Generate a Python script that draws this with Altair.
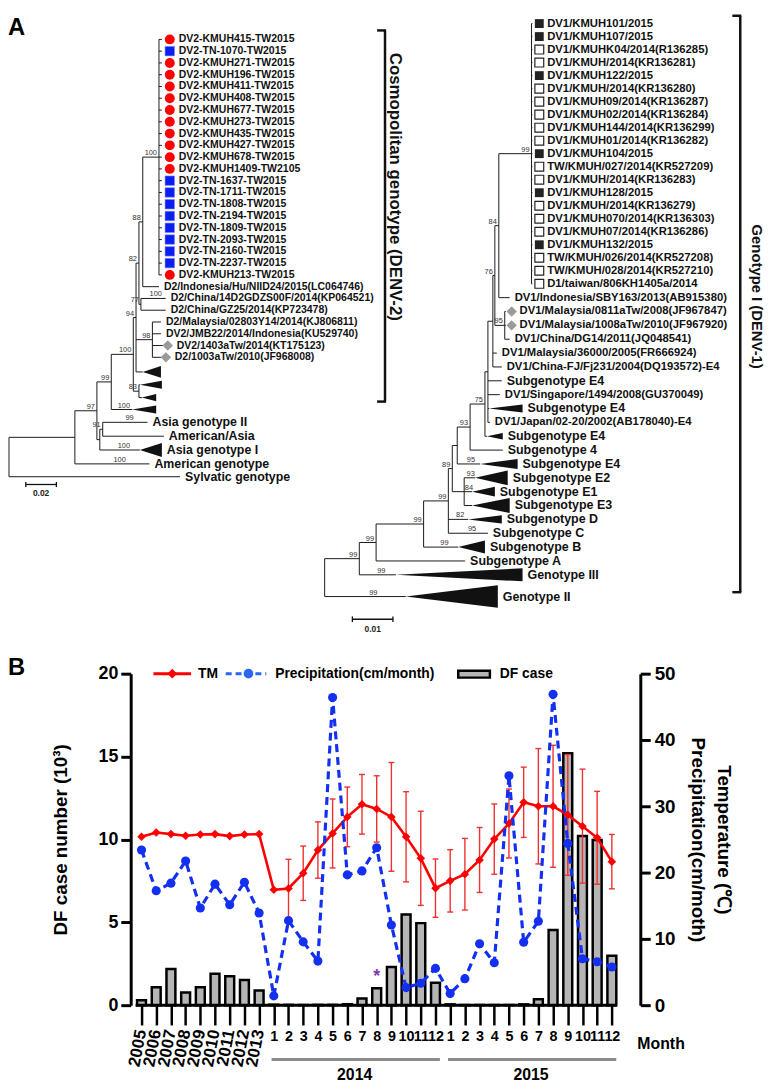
import json
import numpy as np
import pandas as pd
import altair as alt

FONT = "Liberation Sans"

# ======================= Panel B data =======================
PERIOD_LABELS = ["2005", "2006", "2007", "2008", "2009", "2010", "2011", "2012", "2013",
                 "1", "2", "3", "4", "5", "6", "7", "8", "9", "10", "11", "12",
                 "1", "2", "3", "4", "5", "6", "7", "8", "9", "10", "11", "12"]
DF_CASES = [0.30, 1.08, 2.18, 0.76, 1.08, 1.90, 1.74, 1.52, 0.88,
            0.03, 0.02, 0.01, 0.02, 0.02, 0.06, 0.40, 1.02, 2.30, 5.47, 4.95, 1.35,
            0.05, 0.01, 0.01, 0.01, 0.01, 0.05, 0.36, 4.54, 15.2, 10.2, 9.97, 2.98]
TM = [25.4, 26.05, 25.8, 25.55, 25.75, 25.8, 25.5, 25.75, 25.8,
      17.4, 17.6, 19.9, 23.4, 25.9, 28.4, 30.3, 29.6, 28.4, 25.4, 22.15, 17.65,
      18.75, 19.75, 21.9, 25.05, 27.4, 30.6, 30.0, 30.0, 28.7, 27.0, 25.25, 21.65]
TM_SD = [0, 0, 0, 0, 0, 0, 0, 0, 0,
         0, 4.4, 4.1, 4.25, 5.2, 4.5, 4.5, 5.0, 8.2, 6.8, 7.1, 4.4,
         4.7, 5.4, 4.9, 5.3, 5.2, 5.3, 8.7, 9.2, 9.1, 8.6, 7.0, 4.1]
PRECIP = [23.4, 17.25, 18.4, 21.75, 14.65, 18.25, 15.15, 18.55, 13.9,
          1.4, 12.75, 9.55, 6.65, 46.4, 19.65, 20.25, 23.75, 12.1, 2.65, 3.3, 5.55,
          1.75, 4.0, 9.25, 6.4, 34.6, 9.5, 12.65, 46.9, 24.4, 7.0, 6.55, 5.75]
YEAR_GROUPS = [("2014", 9, 20), ("2015", 21, 32)]
STAR_IDX = 16
LEGEND_LABELS = ["TM", "Precipitation(cm/month)", "DF case"]

# ======================= Panel A data =======================
LEFT_LABELS = [
    "DV2-KMUH415-TW2015", "DV2-TN-1070-TW2015", "DV2-KMUH271-TW2015", "DV2-KMUH196-TW2015",
    "DV2-KMUH411-TW2015", "DV2-KMUH408-TW2015", "DV2-KMUH677-TW2015", "DV2-KMUH273-TW2015",
    "DV2-KMUH435-TW2015", "DV2-KMUH427-TW2015", "DV2-KMUH678-TW2015", "DV2-KMUH1409-TW2105",
    "DV2-TN-1637-TW2015", "DV2-TN-1711-TW2015", "DV2-TN-1808-TW2015", "DV2-TN-2194-TW2015",
    "DV2-TN-1809-TW2015", "DV2-TN-2093-TW2015", "DV2-TN-2160-TW2015", "DV2-TN-2237-TW2015",
    "DV2-KMUH213-TW2015", "D2/Indonesia/Hu/NIID24/2015(LC064746)",
    "D2/China/14D2GDZS00F/2014(KP064521)", "D2/China/GZ25/2014(KP723478)",
    "D2/Malaysia/02803Y14/2014(KJ806811)", "DV2/JMB22/2014/Indonesia(KU529740)",
    "DV2/1403aTw/2014(KT175123)", "D2/1003aTw/2010(JF968008)",
    "", "", "", "",
    "Asia genotype II", "American/Asia", "Asia genotype I", "American genotype", "Sylvatic genotype"]
LEFT_MARK = (["c", "s"] + ["c"] * 10 + ["s"] * 8 + ["c"] + [""] * 5 + ["d", "d"] + [""] * 9)
LEFT_STEP = [0] + [1.0] * 27 + [1.24, 1.09, 1.09, 1.01, 1.09, 1.18, 1.17, 1.18, 1.09]

RIGHT_LABELS = [
    "DV1/KMUH101/2015", "DV1/KMUH107/2015", "DV1/KMUHK04/2014(R136285)", "DV1/KMUH/2014(KR136281)",
    "DV1/KMUH122/2015", "DV1/KMUH/2014(KR136280)", "DV1/KMUH09/2014(KR136287)",
    "DV1/KMUH02/2014(KR136284)", "DV1/KMUH144/2014(KR136299)", "DV1/KMUH01/2014(KR136282)",
    "DV1/KMUH104/2015", "TW/KMUH/027/2014(KR527209)", "DV1/KMUH/2014(KR136283)",
    "DV1/KMUH128/2015", "DV1/KMUH/2014(KR136279)", "DV1/KMUH070/2014(KR136303)",
    "DV1/KMUH07/2014(KR136286)", "DV1/KMUH132/2015", "TW/KMUH/026/2014(KR527208)",
    "TW/KMUH/028/2014(KR527210)", "D1/taiwan/806KH1405a/2014",
    "DV1/Indonesia/SBY163/2013(AB915380)", "DV1/Malaysia/0811aTw/2008(JF967847)",
    "DV1/Malaysia/1008aTw/2010(JF967920)", "DV1/China/DG14/2011(JQ048541)",
    "DV1/Malaysia/36000/2005(FR666924)", "DV1/China-FJ/Fj231/2004(DQ193572)-E4",
    "Subgenotype E4", "DV1/Singapore/1494/2008(GU370049)", "Subgenotype E4",
    "DV1/Japan/02-20/2002(AB178040)-E4", "Subgenotype E4", "Subgenotype 4", "Subgenotype E4",
    "Subgenotype E2", "Subgenotype E1", "Subgenotype E3", "Subgenotype D", "Subgenotype C",
    "Subgenotype B", "Subgenotype A", "Genotype III", "Genotype II"]
RIGHT_MARK = (["b", "b", "w", "w", "b", "w", "w", "w", "w", "w", "b", "w", "w", "b",
               "w", "w", "w", "b", "w", "w", "w", "", "d", "d"] + [""] * 19)
RIGHT_STEP = [0] + [1.0] * 20 + [1.065] * 21 + [1.67]


def N(d, bs, *kids):
    return {"d": d, "bs": bs, "kids": list(kids)}


def L(d, i, bs=None):
    return {"d": d, "leaf": i, "bs": bs}


def T(d, tip, i, half, bs=None):
    return {"d": d, "tip": tip, "leaf": i, "half": half, "bs": bs}


# node depths in substitutions/site
LEFT_TREE = N(0, None,
    N(.0431, None,
        N(.0575, "97",
            N(.0669, "99",
                N(.0813, "100",
                    N(.0831, "94",
                        N(.0850, "82",
                            N(.0875, "88",
                                N(.0981, "100", *[L(.1000, i) for i in range(21)]),
                                L(.0981, 21)),
                            N(.0863, "77", L(.1025, 22, "100"), L(.1025, 23))),
                        N(.0938, "98", L(.0994, 24), L(.0994, 25), L(.1006, 26), L(.0994, 27)),
                        T(.0875, .0994, 28, .5)),
                    N(.0850, "83", T(.0856, .1000, 29, .34), T(.0869, .0963, 30, .3))),
                T(.0806, .0963, 31, .34, "100")),
            N(.0594, None,
                N(.0613, "91", L(.0906, 32, "99"), L(.1013, 33)),
                T(.0856, .1000, 34, .6, "100"))),
        L(.0919, 35, "100")),
    L(.1119, 36))

RIGHT_TREE = N(0, None,
    N(.00854, "99",
        N(.01268, "99",
            N(.02439, "99",
                N(.03049, "99",
                    N(.03146, "89",
                        N(.03268, None,
                            N(.03585, "93",
                                N(.03951, "75",
                                    N(.04024, None,
                                        N(.04146, None,
                                            N(.04195, "76",
                                                N(.04293, "84",
                                                    N(.05098, "99", *[L(.0512, i) for i in range(21)]),
                                                    L(.04561, 21)),
                                                N(.04439, "95", L(.04463, 22), L(.04463, 23), L(.04561, 24))),
                                            L(.04244, 25),
                                            L(.04366, 26)),
                                        L(.04366, 27),
                                        L(.04317, 28),
                                        T(.0405, .04878, 29, .3),
                                        L(.04073, 30)),
                                    T(.0400, .04390, 31, .25)),
                                L(.04390, 32)),
                            T(.03829, .04756, 33, .38, "95")),
                        N(.03439, None,
                            T(.03707, .04512, 34, .57, "93"),
                            T(.03634, .04195, 35, .38, "84"),
                            T(.03634, .04561, 36, .57))),
                    T(.03537, .04366, 37, .32, "82"),
                    L(.04024, 38, "95")),
                T(.03293, .03951, 39, .5, "99")),
            L(.03463, 40)),
        T(.01756, .04878, 41, .5, "99")),
    T(.02, .04268, 42, .87, "99"))


def layout(tree, ypos):
    segs, tris, tips, nlab, blab = [], [], {}, [], []

    def rec(n, pdp):
        if "leaf" in n:
            i = n["leaf"]
            y = ypos[i]
            segs.append({"x": pdp, "x2": n["d"], "y": y, "y2": y})
            end = n["d"]
            if "tip" in n:
                tris.append({"id": i, "x": n["d"], "lo": y, "hi": y})
                tris.append({"id": i, "x": n["tip"], "lo": y - n["half"], "hi": y + n["half"]})
                end = n["tip"]
            tips[i] = end
            if n["bs"]:
                blab.append({"x": pdp + 0.6 * (n["d"] - pdp), "y": y, "t": n["bs"]})
            return y
        ys = [rec(k, n["d"]) for k in n["kids"]]
        y = (min(ys) + max(ys)) / 2
        segs.append({"x": n["d"], "x2": n["d"], "y": min(ys), "y2": max(ys)})
        if pdp is not None:
            segs.append({"x": pdp, "x2": n["d"], "y": y, "y2": y})
        if n["bs"]:
            nlab.append({"x": n["d"], "y": y, "t": n["bs"]})
        return y

    rec(tree, None)
    return segs, tris, tips, nlab, blab


# Panel A occupies the full 765 px width; its plot origin sits OFF px to the right so that
# it lines up with panel B's plot origin in the concatenated layout.
OFF = 124
W_FULL, H_A = 765, 630
W_A = W_FULL - OFF


def tree_panel(tree, labels, marks, steps, x0, xppu, y0, yppr, mark_styles, text_dx,
               strain_fs, clade_fs, big_fs, scalebar, bracket):
    pos = list(np.cumsum(steps))
    segs, tris, tips, nlab, blab = layout(tree, pos)
    xs = alt.Scale(domain=[(OFF - x0) / xppu, (W_FULL - x0) / xppu], nice=False, zero=False)
    ys = alt.Scale(domain=[-y0 / yppr, (H_A - y0) / yppr], nice=False, zero=False, reverse=True)

    def X(f):
        return alt.X(f, type="quantitative", scale=xs, axis=None)

    def Y(f):
        return alt.Y(f, type="quantitative", scale=ys, axis=None)

    layers = [
        alt.Chart(pd.DataFrame(segs)).mark_rule(color="#1a1a1a", strokeWidth=1).encode(
            x=X("x"), x2="x2", y=Y("y"), y2="y2"),
        alt.Chart(pd.DataFrame(tris)).mark_area(color="#111111", opacity=1).encode(
            x=X("x"), y=Y("lo"), y2="hi", detail="id:N"),
    ]
    leaves = pd.DataFrame({"label": labels, "mark": marks, "x": [tips[i] for i in range(len(labels))],
                           "y": pos})
    for m, style in mark_styles.items():
        sub = leaves[leaves["mark"] == m]
        if len(sub):
            layers.append(alt.Chart(sub).mark_point(**style).encode(x=X("x"), y=Y("y")))

    def is_clade(l):
        return l != "" and ("/" not in l or l == "American/Asia") and not l.startswith("DV2-")

    leaves["clade"] = [is_clade(l) for l in labels]
    leaves["big"] = [l.startswith("Genotype") or "genotype" in l or l == "American/Asia" for l in labels]
    leaves = leaves[leaves["label"] != ""]
    for m, dx in text_dx.items():
        sub = leaves[leaves["mark"] == m]
        for big in (False, True):
            for clade in (False, True):
                s2 = sub[(sub["big"] == big) & (sub["clade"] == clade)]
                if not len(s2):
                    continue
                fs = big_fs if big else (clade_fs if clade else strain_fs)
                layers.append(alt.Chart(s2).mark_text(
                    align="left", baseline="middle", dx=dx, fontSize=fs, fontWeight="bold",
                    color="#111111").encode(x=X("x"), y=Y("y"), text="label:N"))
    if nlab:
        layers.append(alt.Chart(pd.DataFrame(nlab)).mark_text(
            align="right", baseline="alphabetic", dx=-2, dy=-2, fontSize=7.5, color="#333333").encode(
            x=X("x"), y=Y("y"), text="t:N"))
    if blab:
        layers.append(alt.Chart(pd.DataFrame(blab)).mark_text(
            align="center", baseline="alphabetic", dy=-2, fontSize=7.5, color="#333333").encode(
            x=X("x"), y=Y("y"), text="t:N"))
    # scale bar
    sb = pd.DataFrame([scalebar])
    sb["x1"] = sb["x0"] + sb["len"]
    sb["ya"] = sb["y"] - 0.22
    sb["yb"] = sb["y"] + 0.22
    sb["yt"] = sb["y"] + 0.75
    sb["xm"] = sb["x0"] + sb["len"] / 2
    sb["t"] = sb["len"].map(lambda v: f"{v:.2f}")
    layers += [
        alt.Chart(sb).mark_rule(color="#111", strokeWidth=1.3).encode(x=X("x0"), x2="x1", y=Y("y")),
        alt.Chart(sb).mark_rule(color="#111", strokeWidth=1.3).encode(x=X("x0"), y=Y("ya"), y2="yb"),
        alt.Chart(sb).mark_rule(color="#111", strokeWidth=1.3).encode(x=X("x1"), y=Y("ya"), y2="yb"),
        alt.Chart(sb).mark_text(fontSize=8.5, fontWeight="bold", baseline="middle", color="#222").encode(
            x=X("xm"), y=Y("yt"), text="t:N"),
    ]
    # clade bracket
    br = pd.DataFrame([{"y0": bracket["y0"], "y1": bracket["y1"]}])
    bx = bracket["px"] - OFF
    layers += [
        alt.Chart(br).mark_rule(color="#111", strokeWidth=2.5).encode(
            x=alt.value(bx), y=Y("y0"), y2="y1"),
        alt.Chart(br).mark_rule(color="#111", strokeWidth=2.5).encode(
            x=alt.value(bx - 8), x2=alt.value(bx + 1), y=Y("y0")),
        alt.Chart(br).mark_rule(color="#111", strokeWidth=2.5).encode(
            x=alt.value(bx - 8), x2=alt.value(bx + 1), y=Y("y1")),
    ]
    return alt.layer(*layers)


left_panel = tree_panel(
    LEFT_TREE, LEFT_LABELS, LEFT_MARK, LEFT_STEP, x0=1, xppu=1545, y0=23, yppr=11.9,
    mark_styles={
        "c": dict(shape="circle", filled=True, size=100, color="#ff0000", opacity=1, xOffset=8),
        "s": dict(shape="square", filled=True, size=92, color="#0a1ef0", opacity=1, xOffset=8,
                  stroke="#7f8cff", strokeWidth=0.6),
        "d": dict(shape="diamond", filled=True, size=110, color="#9a9a9a", opacity=1, xOffset=5),
    },
    text_dx={"c": 17, "s": 17, "d": 14, "": 5},
    strain_fs=10.6, clade_fs=12.5, big_fs=12.5,
    scalebar={"x0": 0.011, "len": 0.02, "y": 37.8},
    bracket={"px": 381, "y0": -0.76, "y1": 30.76})

right_panel = tree_panel(
    RIGHT_TREE, RIGHT_LABELS, RIGHT_MARK, RIGHT_STEP, x0=320, xppu=4100, y0=7, yppr=13.15,
    mark_styles={
        "b": dict(shape="square", filled=True, size=80, color="#222222", opacity=1, xOffset=7),
        "w": dict(shape="square", filled=True, size=80, fill="white", stroke="#222222",
                  strokeWidth=1.2, opacity=1, xOffset=7),
        "d": dict(shape="diamond", filled=True, size=110, color="#9a9a9a", opacity=1, xOffset=6),
    },
    text_dx={"b": 15, "w": 15, "d": 14, "": 5},
    strain_fs=11.4, clade_fs=11.6, big_fs=12.6,
    scalebar={"x0": 0.00683, "len": 0.01, "y": 45.78},
    bracket={"px": 740, "y0": -0.6, "y1": 43.7})

annA = alt.layer(
    alt.Chart(pd.DataFrame({"t": ["A"]})).mark_text(
        align="left", baseline="middle", fontSize=24, fontWeight="bold", color="black").encode(
        x=alt.value(0 - OFF), y=alt.value(12), text="t:N"),
    alt.Chart(pd.DataFrame({"t": ["Cosmopolitan  genotype  (DENV-2)"]})).mark_text(
        angle=90, align="center", baseline="middle", fontSize=17, fontWeight="bold", color="#111").encode(
        x=alt.value(391 - OFF), y=alt.value(172), text="t:N"),
    alt.Chart(pd.DataFrame({"t": ["Genotype I (DENV-1)"]})).mark_text(
        angle=90, align="center", baseline="middle", fontSize=15, fontWeight="bold", color="#111").encode(
        x=alt.value(757 - OFF), y=alt.value(283), text="t:N"),
)

panelA = alt.layer(left_panel, right_panel, annA).resolve_scale(
    x="independent", y="independent").properties(width=W_A, height=H_A)

# ======================= Panel B =======================
W_B, H_B = 515, 335
idx = list(range(len(PERIOD_LABELS)))
dfB = pd.DataFrame({"idx": idx, "label": PERIOD_LABELS, "cases": DF_CASES, "tm": TM,
                    "sd": TM_SD, "precip": PRECIP})
dfB["lo"] = dfB["tm"] - dfB["sd"]
dfB["hi"] = dfB["tm"] + dfB["sd"]
dfErr = dfB[dfB["sd"] > 0]
dfYears = dfB[dfB["label"].str.len() == 4]

axis_labels = ["" if len(l) == 4 else l for l in PERIOD_LABELS]
X_DOMAIN = [-0.4, 33.6]
xsB = alt.Scale(domain=X_DOMAIN, nice=False, zero=False)
x_axis = alt.Axis(values=idx, labelExpr=json.dumps(axis_labels) + "[datum.value]", title=None,
                  grid=False, domain=False, tickColor="black", tickWidth=2.5,
                  tickSize=20, labelFontSize=14.5, labelFontWeight="bold", labelColor="black",
                  labelPadding=5, labelOverlap=False, labelFlush=False, labelAngle=0)


def XB(f):
    return alt.X(f, type="quantitative", scale=xsB, axis=x_axis)


left_axis = alt.Axis(values=[0, 5, 10, 15, 20], title="DF case number (10³)", grid=False,
                     domainColor="black", domainWidth=3, tickColor="black", tickWidth=3, tickSize=10,
                     labelFontSize=18, labelFontWeight="bold", labelColor="black", labelPadding=3,
                     titleFontSize=19, titleFontWeight="bold", titleColor="black", titlePadding=28)
right_axis = alt.Axis(orient="right", values=[0, 10, 20, 30, 40, 50],
                      title=["Temperature (℃)", "Precipitation(cm/moth)"], grid=False,
                      domainColor="black", domainWidth=3, tickColor="black", tickWidth=3, tickSize=10,
                      labelFontSize=19, labelFontWeight="bold", labelColor="black", labelPadding=4,
                      titleFontSize=19, titleFontWeight="bold", titleColor="black", titlePadding=13,
                      titleLineHeight=26)
ysL = alt.Scale(domain=[0, 20], nice=False)
ysR = alt.Scale(domain=[0, 50], nice=False)


def YL(f):
    return alt.Y(f, type="quantitative", scale=ysL, axis=left_axis)


def YR(f):
    return alt.Y(f, type="quantitative", scale=ysR, axis=right_axis)


RED, BLUE = "#ff0000", "#1330f0"
baseline_df = pd.DataFrame({"a": [X_DOMAIN[0]], "b": [len(idx) - 1 + 0.35], "v": [0]})
leftB = alt.layer(
    alt.Chart(dfB).mark_bar(size=9, fill="#b5b5b5", stroke="black", strokeWidth=2.5).encode(
        x=XB("idx"), y=YL("cases")),
    alt.Chart(baseline_df).mark_rule(color="black", strokeWidth=3).encode(
        x=XB("a"), x2="b", y=YL("v")),
    alt.Chart(dfB[dfB["idx"] == STAR_IDX]).mark_text(
        text="*", dy=-11, fontSize=18, color="#7a3cb0", fontWeight="bold").encode(
        x=XB("idx"), y=YL("cases")),
)
rightB = alt.layer(
    alt.Chart(dfErr).mark_rule(color="#ef3030", strokeWidth=1.4).encode(x=XB("idx"), y=YR("lo"), y2="hi"),
    alt.Chart(dfErr).mark_tick(orient="horizontal", size=6, thickness=1.4, color="#ef3030", opacity=1).encode(
        x=XB("idx"), y=YR("lo")),
    alt.Chart(dfErr).mark_tick(orient="horizontal", size=6, thickness=1.4, color="#ef3030", opacity=1).encode(
        x=XB("idx"), y=YR("hi")),
    alt.Chart(dfB).mark_line(color=RED, strokeWidth=2.6).encode(x=XB("idx"), y=YR("tm")),
    alt.Chart(dfB).mark_point(shape="diamond", filled=True, size=75, color=RED, opacity=1).encode(
        x=XB("idx"), y=YR("tm")),
    alt.Chart(dfB).mark_line(color=BLUE, strokeWidth=3.2, strokeDash=[8, 5]).encode(
        x=XB("idx"), y=YR("precip")),
    alt.Chart(dfB).mark_point(shape="circle", filled=True, size=85, color=BLUE, opacity=1).encode(
        x=XB("idx"), y=YR("precip")),
)

grp = pd.DataFrame([{"label": g, "x0": a - 0.15, "x1": b + 0.3, "xm": (a + b) / 2}
                    for g, a, b in YEAR_GROUPS])
leg = pd.DataFrame({"t": LEGEND_LABELS})
annB = alt.layer(
    alt.Chart(dfYears).mark_text(angle=281, align="right", baseline="middle", fontSize=17,
                                 fontWeight="bold", color="black").encode(
        x=XB("idx"), y=alt.value(H_B + 25), text="label:N"),
    alt.Chart(grp).mark_rule(color="#8c8c8c", strokeWidth=3).encode(
        x=XB("x0"), x2="x1", y=alt.value(H_B + 55)),
    alt.Chart(grp).mark_text(fontSize=16, fontWeight="bold", color="black", baseline="middle").encode(
        x=XB("xm"), y=alt.value(H_B + 71), text="label:N"),
    alt.Chart(pd.DataFrame({"t": ["Month"]})).mark_text(
        align="left", baseline="middle", fontSize=16, fontWeight="bold", color="black").encode(
        x=alt.value(512), y=alt.value(H_B + 39), text="t:N"),
    alt.Chart(pd.DataFrame({"t": ["B"]})).mark_text(
        align="left", baseline="middle", fontSize=24, fontWeight="bold", color="black").encode(
        x=alt.value(-OFF), y=alt.value(-6), text="t:N"),
    # legend
    alt.Chart(leg.iloc[[0]]).mark_rule(color=RED, strokeWidth=3).encode(
        x=alt.value(23), x2=alt.value(61), y=alt.value(0)),
    alt.Chart(leg.iloc[[0]]).mark_point(shape="diamond", filled=True, size=95, color=RED, opacity=1).encode(
        x=alt.value(42), y=alt.value(0)),
    alt.Chart(leg.iloc[[0]]).mark_text(align="left", baseline="middle", fontSize=14, fontWeight="bold",
                                       color="black").encode(x=alt.value(68), y=alt.value(0), text="t:N"),
    alt.Chart(leg.iloc[[1]]).mark_rule(color="#2a66ee", strokeWidth=3, strokeDash=[6, 4]).encode(
        x=alt.value(96), x2=alt.value(137), y=alt.value(0)),
    alt.Chart(leg.iloc[[1]]).mark_point(shape="circle", filled=True, size=95, color="#2a66ee", opacity=1).encode(
        x=alt.value(119), y=alt.value(0)),
    alt.Chart(leg.iloc[[1]]).mark_text(align="left", baseline="middle", fontSize=14, fontWeight="bold",
                                       color="black").encode(x=alt.value(146), y=alt.value(0), text="t:N"),
    alt.Chart(leg.iloc[[2]]).mark_rect(fill="#b5b5b5", stroke="black", strokeWidth=2.5).encode(
        x=alt.value(331), x2=alt.value(363), y=alt.value(-3), y2=alt.value(4)),
    alt.Chart(leg.iloc[[2]]).mark_text(align="left", baseline="middle", fontSize=14, fontWeight="bold",
                                       color="black").encode(x=alt.value(373), y=alt.value(0), text="t:N"),
)

panelB = alt.layer(leftB, rightB, annB).resolve_scale(y="independent").properties(width=W_B, height=H_B)

chart = alt.vconcat(panelA, panelB, spacing=16).properties(
    padding={"left": 0, "top": 0, "right": 0, "bottom": 0}
).configure(font=FONT).configure_view(stroke=None)

chart.save("out.html", embed_options={"renderer": "svg", "actions": False})
